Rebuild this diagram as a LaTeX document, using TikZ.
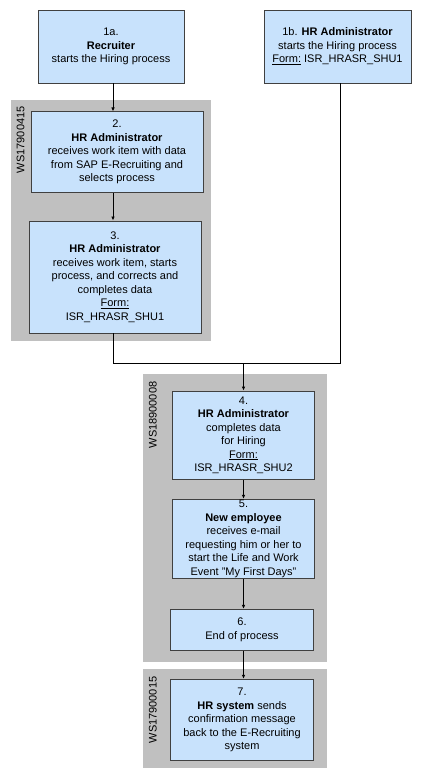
\documentclass[tikz,border=0pt]{standalone}
\usepackage{fontspec}
\setmainfont{Liberation Sans}
\usetikzlibrary{arrows.meta}
\definecolor{stepfill}{RGB}{200,226,252}
\definecolor{wsgray}{RGB}{192,192,192}
\definecolor{stepline}{RGB}{64,64,64}

\begin{document}
\begin{tikzpicture}[x=1pt,y=-1pt,
    stepbox/.style={draw=stepline,line width=0.9pt,fill=stepfill,align=center,inner sep=0pt},
    wsgroup/.style={fill=wsgray,inner sep=0pt},
    wslabel/.style={rotate=90,anchor=north east,inner sep=0pt},
    flow/.style={line width=0.8pt,-{Latex[length=4pt,width=3.5pt]}}]
    \tikzstyle{every node}+=[font=\fontsize{11}{13.5}\selectfont]
    \useasboundingbox (0,0) rectangle (433,783);
    % workflow groups
    \node [wsgroup,minimum width=200pt,minimum height=241pt] (g1) at (111,220.5) {};
    \node [wsgroup,minimum width=183.4pt,minimum height=288pt] (g2) at (235,518.3) {};
    \node [wsgroup,minimum width=183.4pt,minimum height=99pt] (g3) at (235,718.8) {};
    \node [wslabel] (l1) at ([xshift=5.7pt,yshift=-6.5pt]g1.north west) {WS17900415};
    \node [wslabel] (l2) at ([xshift=5.7pt,yshift=-7.4pt]g2.north west) {WS18900008};
    \node [wslabel] (l3) at ([xshift=5.7pt,yshift=-7.4pt]g3.north west) {WS17900015};
    % steps
    \node [stepbox,minimum width=146pt,minimum height=73pt] (s1a) at (111,46.5)
        {1a.\\\textbf{Recruiter}\\starts the Hiring process};
    \node [stepbox,minimum width=147pt,minimum height=73pt] (s1b) at (337.5,46.5)
        {1b. \textbf{HR Administrator}\\starts the Hiring process\\\underline{Form:} ISR\_HRASR\_SHU1};
    \node [stepbox,minimum width=172pt,minimum height=80.7pt] (s2) at (117,152.3)
        {2.\\\textbf{HR Administrator}\\receives work item with data\\from SAP E-Recruiting and\\selects process};
    \node [stepbox,minimum width=172pt,minimum height=112pt] (s3) at (115,277)
        {3.\\\textbf{HR Administrator}\\receives work item, starts\\process, and corrects and\\completes data\\\underline{Form:}\\ISR\_HRASR\_SHU1};
    \node [stepbox,minimum width=142pt,minimum height=88.3pt] (s4) at (243.5,435.2)
        {4.\\\textbf{HR Administrator}\\completes data\\for Hiring\\\underline{Form:}\\ISR\_HRASR\_SHU2};
    \node [stepbox,minimum width=142pt,minimum height=79pt] (s5) at (243.5,538.8)
        {5.\\\textbf{New employee}\\receives e-mail\\requesting him or her to\\start the Life and Work\\Event "My First Days"};
    \node [stepbox,minimum width=143pt,minimum height=40.7pt] (s6) at (242,629.7)
        {6.\\End of process};
    \node [stepbox,minimum width=143.4pt,minimum height=81.4pt] (s7) at (242,720)
        {7.\\\textbf{HR system} sends\\confirmation message\\back to the E-Recruiting\\system};
    % connectors
    \coordinate (ax) at (113,0);
    \coordinate (bx) at (340,0);
    \coordinate (merge) at (243.5,363.3);
    \draw [flow] (s1a.south -| ax) -- (s2.north -| ax);
    \draw [flow] (s2.south -| ax) -- (s3.north -| ax);
    \draw [line width=0.8pt] (s3.south -| ax) |- (merge) -| (s1b.south -| bx);
    \draw [flow] (merge) -- (s4.north);
    \draw [flow] (s4.south) -- (s5.north);
    \draw [flow] (s5.south) -- (s5.south |- s6.north);
    \draw [flow] (s5.south |- s6.south) -- (s5.south |- s7.north);
\end{tikzpicture}
\end{document}
